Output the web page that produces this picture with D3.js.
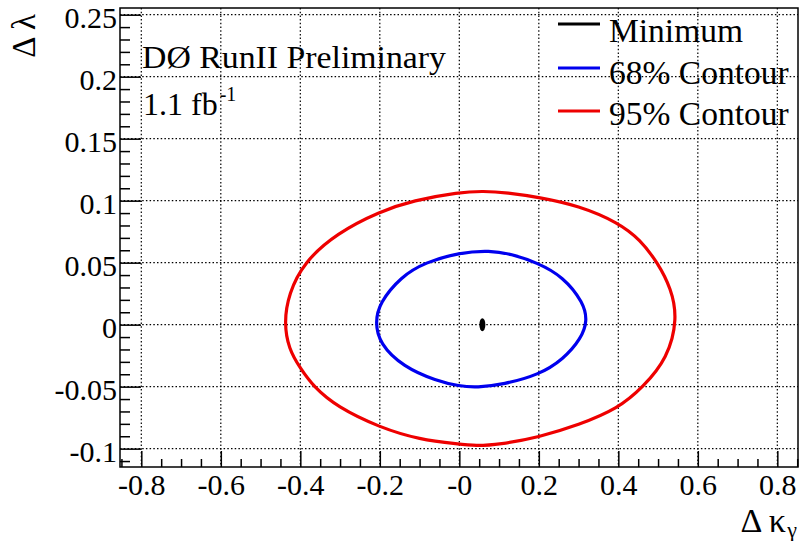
<!DOCTYPE html>
<html>
<head>
<meta charset="utf-8">
<script src="https://cdn.jsdelivr.net/npm/d3@7"></script>
<style>
  html, body { margin: 0; padding: 0; background: #fff; }
  svg { display: block; }
  text { font-family: "Liberation Serif", "Times New Roman", serif; fill: #000; }
</style>
</head>
<body>
<svg id="chart" width="800" height="541"></svg>
<script>
// ---------------- data ----------------
const xTicks = [-0.8, -0.6, -0.4, -0.2, 0, 0.2, 0.4, 0.6, 0.8];
const xTickLabels = ["-0.8", "-0.6", "-0.4", "-0.2", "-0", "0.2", "0.4", "0.6", "0.8"];
const yTicks = [-0.1, -0.05, 0, 0.05, 0.1, 0.15, 0.2, 0.25];
const yTickLabels = ["-0.1", "-0.05", "0", "0.05", "0.1", "0.15", "0.2", "0.25"];
const xDomain = [-0.8536, 0.852];
const yDomain = [-0.1148, 0.2554];

// 95% contour points (Δκγ, Δλ)
const contour95 = [
  [0.549, 0.005], [0.533, 0.029], [0.499, 0.050], [0.455, 0.0685], [0.400, 0.0823],
  [0.300, 0.0960], [0.200, 0.1027], [0.120, 0.1065], [0.060, 0.1078], [0.000, 0.1068],
  [-0.116, 0.1002], [-0.200, 0.0913], [-0.308, 0.0739], [-0.392, 0.0500], [-0.429, 0.0250],
  [-0.441, 0.002], [-0.429, -0.020], [-0.400, -0.0352], [-0.367, -0.0500], [-0.308, -0.0663],
  [-0.200, -0.0830], [-0.100, -0.0927], [0.000, -0.0964], [0.040, -0.0978], [0.100, -0.0967],
  [0.200, -0.0908], [0.300, -0.0810], [0.400, -0.0676], [0.462, -0.0505], [0.524, -0.0272]
];
// 68% contour points
const contour68 = [
  [0.322, 0.003], [0.313, 0.0175], [0.2616, 0.0387], [0.1947, 0.0502], [0.130, 0.0570],
  [0.077, 0.0599], [0.000, 0.0582], [-0.0863, 0.0502], [-0.147, 0.0387], [-0.201, 0.0175],
  [-0.2115, 0.002], [-0.201, -0.0152], [-0.141, -0.0341], [-0.057, -0.0454], [0.000, -0.0496],
  [0.044, -0.0507], [0.111, -0.0482], [0.200, -0.0405], [0.2616, -0.0280], [0.307, -0.0110]
];
// best-fit minimum
const minimum = [0.058, 0.0];

const legendLabels = ["Minimum", "68% Contour", "95% Contour"];
const legendColors = ["#000000", "#0000ee", "#ee0000"];
const textLines = ["DØ RunII Preliminary", "1.1 fb"];

// ---------------- layout ----------------
const svg = d3.select("#chart");
const pL = 120, pR = 798, pT = 8, pB = 467;
const x = d3.scaleLinear().domain(xDomain).range([pL, pR]);
const y = d3.scaleLinear().domain(yDomain).range([pB, pT]);

// grid
const grid = svg.append("g").attr("stroke", "#000").attr("stroke-width", 1.2)
  .attr("stroke-dasharray", "1.5,2.2");
grid.selectAll("line.v").data(xTicks).join("line").attr("class", "v")
  .attr("x1", d => x(d)).attr("x2", d => x(d)).attr("y1", pT).attr("y2", pB);
grid.selectAll("line.h").data(yTicks).join("line").attr("class", "h")
  .attr("x1", pL).attr("x2", pR).attr("y1", d => y(d)).attr("y2", d => y(d));

// frame
svg.append("rect").attr("x", pL).attr("y", pT).attr("width", pR - pL).attr("height", pB - pT)
  .attr("fill", "none").attr("stroke", "#000").attr("stroke-width", 1.5);

// minor ticks
const xMinor = d3.range(-0.85, 0.851, 0.05).map(d => +d.toFixed(2)).filter(d => Math.abs(Math.round(d * 5) - d * 5) > 1e-6);
const yMinor = d3.range(-0.11, 0.255, 0.01).map(d => +d.toFixed(2)).filter(d => Math.abs(Math.round(d * 20) - d * 20) > 1e-6);

const fs = 30;
// x axis
const xAxis = d3.axisBottom(x).tickValues(xTicks).tickFormat((d, i) => xTickLabels[i])
  .tickSize(-16).tickPadding(7);
const gx = svg.append("g").attr("transform", `translate(0,${pB})`).call(xAxis);
gx.select(".domain").remove();
gx.selectAll(".tick line").attr("stroke-width", 1.5);
gx.selectAll("text").attr("font-size", fs).attr("font-family", "Liberation Serif, serif");
const gxm = svg.append("g").attr("transform", `translate(0,${pB})`)
  .call(d3.axisBottom(x).tickValues(xMinor).tickFormat("").tickSize(-8));
gxm.select(".domain").remove();
gxm.selectAll(".tick line").attr("stroke-width", 1.5);

// y axis
const yAxis = d3.axisLeft(y).tickValues(yTicks).tickFormat((d, i) => yTickLabels[i])
  .tickSize(-21).tickPadding(3);
const gy = svg.append("g").attr("transform", `translate(${pL},0)`).call(yAxis);
gy.select(".domain").remove();
gy.selectAll(".tick line").attr("stroke-width", 1.5);
gy.selectAll("text").attr("font-size", fs).attr("dy", "0.42em").attr("font-family", "Liberation Serif, serif");
const gym = svg.append("g").attr("transform", `translate(${pL},0)`)
  .call(d3.axisLeft(y).tickValues(yMinor).tickFormat("").tickSize(-10));
gym.select(".domain").remove();
gym.selectAll(".tick line").attr("stroke-width", 1.5);

// axis titles
svg.append("text").attr("transform", "translate(35,14) rotate(-90)")
  .attr("text-anchor", "end").attr("font-size", 33).text("Δ λ");
svg.append("text").attr("x", 786).attr("y", 532).attr("text-anchor", "end").attr("font-size", 34).text("Δ κ");
svg.append("text").attr("x", 797).attr("y", 537).attr("text-anchor", "end").attr("font-size", 22).text("γ");

// contours
const line = d3.line().x(d => x(d[0])).y(d => y(d[1])).curve(d3.curveBasisClosed);
svg.append("path").datum(contour95).attr("d", line).attr("fill", "none")
  .attr("stroke", legendColors[2]).attr("stroke-width", 3.2);
svg.append("path").datum(contour68).attr("d", line).attr("fill", "none")
  .attr("stroke", legendColors[1]).attr("stroke-width", 3.2);
svg.append("ellipse").attr("cx", x(minimum[0])).attr("cy", y(minimum[1]))
  .attr("rx", 3).attr("ry", 6.5).attr("fill", legendColors[0]);

// label text
svg.append("text").attr("x", 142).attr("y", 68).attr("font-size", 31)
  .attr("textLength", 304).attr("lengthAdjust", "spacingAndGlyphs").text(textLines[0]);
const t2 = svg.append("text").attr("x", 143).attr("y", 115).attr("font-size", 32);
t2.append("tspan").text(textLines[1]);
t2.append("tspan").attr("font-size", 20).attr("dy", -14).attr("dx", 2).text("-1");

// legend
const legendY = [24, 68, 111];
const legendTextY = [42, 84, 125];
const lg = svg.append("g");
legendLabels.forEach((lab, i) => {
  lg.append("line").attr("x1", 558).attr("x2", 600).attr("y1", legendY[i]).attr("y2", legendY[i])
    .attr("stroke", legendColors[i]).attr("stroke-width", 3.2);
  lg.append("text").attr("x", 609).attr("y", legendTextY[i]).attr("font-size", 33.5).text(lab);
});
</script>
</body>
</html>
